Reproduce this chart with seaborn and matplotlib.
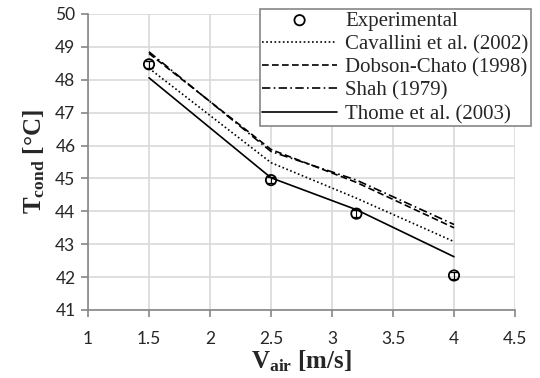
import numpy as np
import pandas as pd
import matplotlib
matplotlib.use('Agg')
import matplotlib.pyplot as plt
import seaborn as sns

# data
v_air = [1.5, 2.5, 3.2, 4.0]
t_exp = [48.47, 44.95, 43.93, 42.05]
t_err = [0.1, 0.1, 0.1, 0.1]
t_cavallini = [48.35, 45.48, 44.40, 43.08]
t_dobson = [48.80, 45.88, 44.88, 43.50]
t_shah = [48.85, 45.82, 44.95, 43.60]
t_thome = [48.06, 45.02, 44.05, 42.62]

models = ['Cavallini et al. (2002)', 'Dobson-Chato (1998)', 'Shah (1979)', 'Thome et al. (2003)']
df = pd.DataFrame({
    'V': v_air * 4,
    'T': t_cavallini + t_dobson + t_shah + t_thome,
    'model': [m for m in models for _ in v_air],
})

sns.set_theme(style='white')
plt.rcParams['font.family'] = ['Lato', 'DejaVu Sans']
plt.rcParams['mathtext.fontset'] = 'custom'
plt.rcParams['mathtext.bf'] = 'Liberation Serif:bold'
plt.rcParams['mathtext.rm'] = 'Liberation Serif:bold'
plt.rcParams['mathtext.it'] = 'Liberation Serif:bold'

fig = plt.figure(figsize=(5.4, 3.78), dpi=100)
ax = fig.add_axes([88/540, 1 - 310/378, (515 - 88)/540, (310 - 14)/378])

# experimental points
ax.errorbar(v_air, t_exp, yerr=t_err, fmt='none', ecolor='black', elinewidth=0.8,
            capsize=3, capthick=0.9, zorder=4)
sns.scatterplot(x=v_air, y=t_exp, ax=ax, marker='o', s=55, facecolor='none',
                edgecolor='black', linewidth=1.3, zorder=5, label='Experimental')

styles = {
    'Cavallini et al. (2002)': (0, (1, 1.5)),
    'Dobson-Chato (1998)': (0, (4, 2)),
    'Shah (1979)': (0, (5, 2, 1, 2)),
    'Thome et al. (2003)': '-',
}
for m in models:
    sub = df[df['model'] == m]
    sns.lineplot(data=sub, x='V', y='T', ax=ax, color='black', linewidth=1.2,
                 linestyle=styles[m], label=m, zorder=3)

ax.set_xlim(1, 4.5)
ax.set_ylim(41, 50)
ax.set_xticks(np.arange(1, 4.51, 0.5))
ax.set_xticklabels(['1', '1.5', '2', '2.5', '3', '3.5', '4', '4.5'])
ax.set_yticks(range(41, 51))
ax.grid(True, color='#d9d9d9', linewidth=1.2)
ax.set_axisbelow(True)
for s in ['top', 'right']:
    ax.spines[s].set_visible(False)
for s in ['left', 'bottom']:
    ax.spines[s].set_color('#868686')
    ax.spines[s].set_linewidth(1.2)
ax.tick_params(axis='both', which='major', direction='out', length=5, width=1.2,
               color='#868686', labelsize=12.5, pad=4, left=True, bottom=True)
ax.tick_params(axis='x', pad=10)

ax.set_xlabel(r'$\mathbf{V_{air}}$ [m/s]', fontsize=18, fontweight='bold',
              family='Liberation Serif', labelpad=1)
ax.set_ylabel(r'$\mathbf{T_{cond}}$ [°C]', fontsize=18, fontweight='bold',
              family='Liberation Serif', labelpad=6)

handles, labels = ax.get_legend_handles_labels()
leg = ax.legend(handles, labels, loc='upper left', bbox_to_anchor=(260/540, 1 - 9/378),
                bbox_transform=fig.transFigure, frameon=True, fancybox=False,
                edgecolor='#868686', framealpha=1, handlelength=3.6,
                prop={'family': 'Liberation Serif', 'size': 15}, borderpad=0.1,
                labelspacing=0.18, handletextpad=0.4, borderaxespad=0)
leg.get_frame().set_linewidth(1.2)

fig.savefig('out.png', dpi=100)
